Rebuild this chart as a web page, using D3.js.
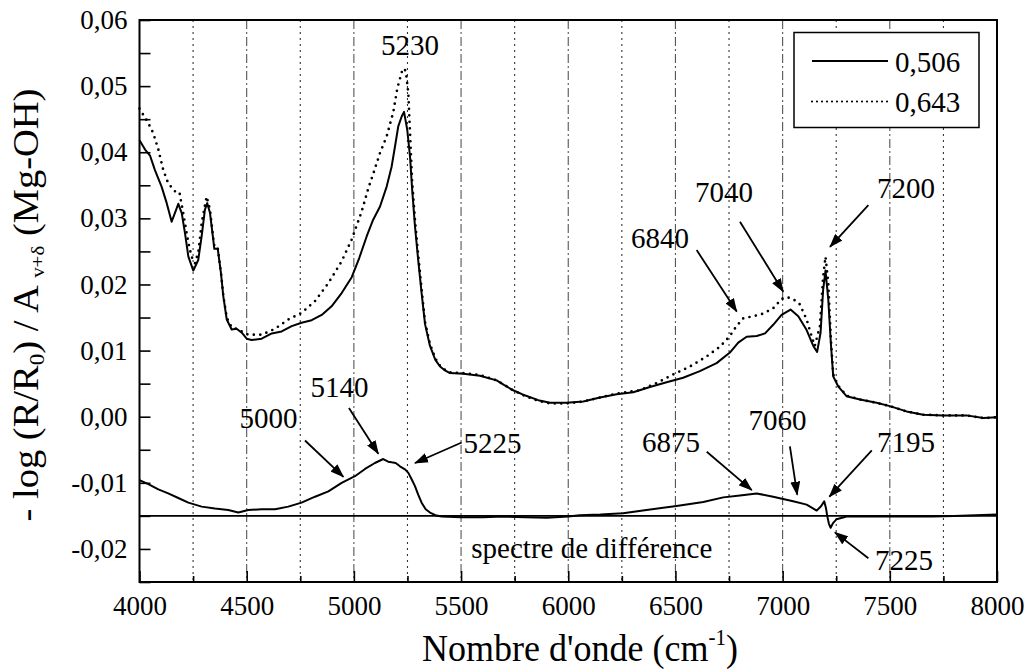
<!DOCTYPE html>
<html>
<head>
<meta charset="utf-8">
<script src="https://cdn.jsdelivr.net/npm/d3@7"></script>
<style>
  html, body { margin: 0; padding: 0; background: #fff; }
  svg { display: block; }
  svg text { font-family: "Liberation Serif", "Tinos", "Times New Roman", Times, "DejaVu Serif", serif; }
</style>
</head>
<body>
<svg id="chart" width="1031" height="670"></svg>
<script>
// ---------------- DATA ----------------
const xTickValues = [4000, 4500, 5000, 5500, 6000, 6500, 7000, 7500, 8000];
const xTickLabels = ["4000", "4500", "5000", "5500", "6000", "6500", "7000", "7500", "8000"];
const yTickValues = [0.06, 0.05, 0.04, 0.03, 0.02, 0.01, 0.00, -0.01, -0.02];
const yTickLabels = ["0,06", "0,05", "0,04", "0,03", "0,02", "0,01", "0,00", "-0,01", "-0,02"];
const legendLabels = ["0,506", "0,643"];

// spectrum 0,506 (solid)
const wn506 = [4000,4026,4049,4072,4103,4127,4150,4165,4181,4197,4212,4228,4251,4274,4290,4305,4316,4329,4344,4349,4365,4380,4391,4407,4430,4453,4477,4500,4523,4570,4617,4663,4710,4756,4803,4850,4896,4943,4990,5025,5060,5090,5122,5153,5176,5192,5207,5223,5234,5249,5262,5272,5285,5300,5316,5332,5355,5380,5402,5425,5448,5510,5588,5666,5700,5743,5800,5860,5915,5992,6070,6148,6226,6303,6381,6459,6536,6614,6692,6754,6793,6832,6879,6918,6956,6995,7037,7073,7112,7143,7161,7177,7189,7200,7213,7225,7236,7259,7298,7361,7438,7500,7578,7656,7749,7858,7936,8000];
const ab506 = [0.0418,0.0404,0.0395,0.0373,0.0348,0.0323,0.0295,0.0308,0.0322,0.0308,0.0278,0.0242,0.0221,0.0237,0.0273,0.0313,0.0323,0.0308,0.0268,0.0254,0.0254,0.0217,0.0182,0.0147,0.0132,0.0133,0.0127,0.0118,0.0116,0.0118,0.0126,0.0129,0.0137,0.0142,0.0146,0.0154,0.0167,0.0187,0.0211,0.0240,0.0273,0.0298,0.0318,0.0348,0.0378,0.0409,0.0439,0.0454,0.0461,0.0434,0.0393,0.0343,0.0288,0.0237,0.0187,0.0140,0.0107,0.0086,0.0076,0.0070,0.0066,0.0065,0.0062,0.0055,0.0048,0.0040,0.0032,0.0025,0.0021,0.0021,0.0023,0.0029,0.0034,0.0037,0.0045,0.0052,0.0059,0.0069,0.0081,0.0097,0.0112,0.0121,0.0122,0.0126,0.0139,0.0154,0.0162,0.0152,0.0131,0.0107,0.0098,0.0127,0.0192,0.0221,0.0177,0.0111,0.0061,0.0046,0.0031,0.0026,0.0021,0.0016,0.0008,0.0003,0.0002,0.0002,-0.0002,-0.0001];

// spectrum 0,643 (dotted)
const wn643 = [4000,4041,4064,4088,4111,4134,4165,4186,4204,4228,4243,4259,4275,4290,4313,4329,4344,4350,4365,4380,4391,4407,4430,4460,4507,4570,4632,4694,4756,4819,4881,4943,4990,5036,5067,5095,5122,5153,5184,5203,5223,5235,5243,5254,5262,5272,5285,5300,5316,5332,5355,5380,5402,5425,5448,5510,5588,5666,5743,5800,5860,5915,5992,6070,6148,6226,6334,6412,6490,6568,6645,6708,6754,6785,6817,6864,6910,6956,6995,7019,7049,7080,7112,7135,7150,7174,7189,7200,7213,7225,7236,7259,7298,7361,7438,7500,7578,7656,7749,7858,7936,8000];
const ab643 = [0.0466,0.0444,0.0429,0.0404,0.0373,0.0353,0.0341,0.0340,0.0308,0.0263,0.0242,0.0232,0.0250,0.0293,0.0333,0.0313,0.0270,0.0256,0.0255,0.0218,0.0183,0.0150,0.0135,0.0132,0.0124,0.0124,0.0133,0.0147,0.0157,0.0175,0.0202,0.0235,0.0268,0.0310,0.0345,0.0372,0.0399,0.0424,0.0461,0.0497,0.0521,0.0527,0.0521,0.0489,0.0429,0.0355,0.0298,0.0245,0.0193,0.0143,0.0110,0.0088,0.0077,0.0071,0.0067,0.0066,0.0063,0.0055,0.0040,0.0031,0.0024,0.0020,0.0020,0.0023,0.0029,0.0035,0.0040,0.0051,0.0064,0.0076,0.0091,0.0106,0.0122,0.0137,0.0149,0.0152,0.0156,0.0164,0.0178,0.0181,0.0178,0.0170,0.0147,0.0122,0.0107,0.0137,0.0212,0.0242,0.0202,0.0118,0.0064,0.0047,0.0032,0.0026,0.0021,0.0016,0.0008,0.0003,0.0002,0.0002,-0.0002,-0.0001];

// difference spectrum (plotted with its baseline at -0,015)
const diffBaseline = -0.015;
const wnDiff = [4000,4041,4088,4134,4181,4228,4290,4352,4414,4461,4507,4570,4632,4694,4756,4819,4881,4943,5005,5052,5098,5137,5160,5176,5195,5215,5240,5254,5270,5285,5300,5316,5335,5355,5380,5409,5500,5600,5700,5800,5900,6000,6054,6150,6256,6365,6505,6630,6723,6801,6879,6956,7049,7112,7159,7180,7194,7202,7208,7216,7224,7235,7252,7298,7400,7500,7600,7700,7800,7900,8000];
const abDiff = [-0.0096,-0.0102,-0.0110,-0.0116,-0.0123,-0.0130,-0.0136,-0.0139,-0.0141,-0.0145,-0.0141,-0.0140,-0.0140,-0.0136,-0.0130,-0.0121,-0.0113,-0.0100,-0.0090,-0.0079,-0.0070,-0.0064,-0.0068,-0.0069,-0.0070,-0.0075,-0.0080,-0.0085,-0.0095,-0.0105,-0.0118,-0.0130,-0.0140,-0.0145,-0.0149,-0.0151,-0.0152,-0.0152,-0.0151,-0.0152,-0.0153,-0.0151,-0.0149,-0.0148,-0.0146,-0.0141,-0.0135,-0.0129,-0.0122,-0.0119,-0.0116,-0.0121,-0.0128,-0.0133,-0.0142,-0.0135,-0.0128,-0.0138,-0.0150,-0.0162,-0.0168,-0.0161,-0.0155,-0.0151,-0.0151,-0.0151,-0.0151,-0.0151,-0.0150,-0.0149,-0.0148];

// peak annotations: label, text anchor (wn, value), arrow start, arrow end
const annLabels = ["5230", "6840", "7040", "7200", "5000", "5140", "5225", "6875", "7060", "7195", "7225"];
const annText   = [[5262,0.0547],[6428,0.0255],[6726,0.0325],[7575,0.0331],[4602,-0.0017],[4933,0.0030],[5647,-0.0055],[6479,-0.0053],[6976,-0.0020],[7575,-0.0053],[7566,-0.0232]];
const annFrom   = [null,[6599,0.0252],[6801,0.0295],[7400,0.0320],[4772,-0.0036],[4977,0.0013],[5503,-0.0039],[6646,-0.0053],[7034,-0.0045],[7416,-0.0051],[7400,-0.0214]];
const annTo     = [null,[6786,0.0159],[7003,0.0189],[7221,0.0257],[4951,-0.0091],[5114,-0.0056],[5285,-0.0070],[6856,-0.0111],[7068,-0.0118],[7218,-0.0121],[7244,-0.0175]];
const diffLabel = "spectre de différence";
const diffLabelPos = [6110, -0.0214];

// ---------------- CHART ----------------
const svg = d3.select("#chart");
const L = 139.5, R = 997, T = 20, B = 582;
const x = d3.scaleLinear().domain([4000, 8000]).range([L, R]);
const y = d3.scaleLinear().domain([-0.025, 0.06]).range([B, T]);

svg.append("defs").append("marker")
  .attr("id", "arrow").attr("markerUnits", "userSpaceOnUse")
  .attr("viewBox", "0 0 14 10").attr("refX", 13).attr("refY", 5)
  .attr("markerWidth", 14).attr("markerHeight", 10).attr("orient", "auto")
  .append("path").attr("d", "M0,0 L14,5 L0,10 Z").attr("fill", "#000");

// vertical grid
const gridVals = d3.range(4250, 8000, 250);
svg.append("g").selectAll("line").data(gridVals).join("line")
  .attr("x1", d => x(d)).attr("x2", d => x(d))
  .attr("y1", T).attr("y2", B)
  .attr("stroke", d => d % 500 === 0 ? "#555" : "#333")
  .attr("stroke-width", 1.1)
  .attr("stroke-dasharray", d => d % 500 === 0 ? "9,3,2,3" : "2,4");

// axes
const fmtX = (d) => xTickLabels[xTickValues.indexOf(d)];
const xMajor = d3.axisBottom(x).tickValues(xTickValues).tickSizeInner(-11).tickSizeOuter(0).tickPadding(14).tickFormat(fmtX);
const xMinor = d3.axisBottom(x).tickValues(d3.range(4250, 8000, 500)).tickSizeInner(-6).tickSizeOuter(0).tickFormat("");
const gx = svg.append("g").attr("transform", `translate(0,${B})`).call(xMajor).attr("font-family", null);
svg.append("g").attr("transform", `translate(0,${B})`).call(xMinor).select(".domain").remove();
gx.select(".domain").remove();
gx.selectAll("text").attr("font-size", 27).attr("fill", "#000");

const yTicks = d3.range(-0.025, 0.0601, 0.005).map(v => Math.round(v * 1000) / 1000);
const fmtY = (d) => {
  const i = yTickValues.findIndex(v => Math.abs(v - d) < 1e-9);
  return i >= 0 ? yTickLabels[i] : "";
};
const yAxis = d3.axisLeft(y).tickValues(yTicks).tickSizeInner(-11).tickSizeOuter(0).tickPadding(12).tickFormat(fmtY);
const gy = svg.append("g").attr("transform", `translate(${L},0)`).call(yAxis).attr("font-family", null);
gy.select(".domain").remove();
gy.selectAll("text").attr("font-size", 27).attr("fill", "#000");
svg.selectAll(".tick line").attr("stroke", "#000").attr("stroke-width", 1.6);

// baseline of difference spectrum
svg.append("line").attr("x1", x(4000)).attr("x2", x(8000))
  .attr("y1", y(diffBaseline)).attr("y2", y(diffBaseline))
  .attr("stroke", "#000").attr("stroke-width", 1.6);

const line = d3.line().x(d => x(d[0])).y(d => y(d[1]));
const s506 = wn506.map((w, i) => [w, ab506[i]]);
const s643 = wn643.map((w, i) => [w, ab643[i]]);
const sDiff = wnDiff.map((w, i) => [w, abDiff[i]]);

svg.append("path").datum(s643).attr("d", line).attr("fill", "none")
  .attr("stroke", "#000").attr("stroke-width", 2.7).attr("stroke-linecap", "round")
  .attr("stroke-dasharray", "0,6.5");
svg.append("path").datum(s506).attr("d", line).attr("fill", "none")
  .attr("stroke", "#000").attr("stroke-width", 2).attr("stroke-linejoin", "round");
svg.append("path").datum(sDiff).attr("d", line).attr("fill", "none")
  .attr("stroke", "#000").attr("stroke-width", 2).attr("stroke-linejoin", "round");

// annotations
const ann = svg.append("g").attr("font-size", 29).attr("fill", "#000");
annLabels.forEach((lab, i) => {
  ann.append("text").attr("x", x(annText[i][0])).attr("y", y(annText[i][1]))
    .attr("text-anchor", "middle").text(lab);
  if (annFrom[i]) {
    ann.append("line")
      .attr("x1", x(annFrom[i][0])).attr("y1", y(annFrom[i][1]))
      .attr("x2", x(annTo[i][0])).attr("y2", y(annTo[i][1]))
      .attr("stroke", "#000").attr("stroke-width", 1.8).attr("marker-end", "url(#arrow)");
  }
});
ann.append("text").attr("x", x(diffLabelPos[0])).attr("y", y(diffLabelPos[1]))
  .attr("text-anchor", "middle").attr("font-size", 29).text(diffLabel);

// legend
const lg = svg.append("g");
lg.append("rect").attr("x", 794).attr("y", 32.5).attr("width", 185).attr("height", 95)
  .attr("fill", "#fff").attr("stroke", "#000").attr("stroke-width", 1.5);
lg.append("line").attr("x1", 812).attr("x2", 888).attr("y1", 61).attr("y2", 61)
  .attr("stroke", "#000").attr("stroke-width", 2);
lg.append("line").attr("x1", 812).attr("x2", 888).attr("y1", 101.5).attr("y2", 101.5)
  .attr("stroke", "#000").attr("stroke-width", 2.2).attr("stroke-linecap", "round").attr("stroke-dasharray", "0,5");
lg.append("text").attr("x", 895).attr("y", 72).attr("font-size", 29).text(legendLabels[0]);
lg.append("text").attr("x", 895).attr("y", 112).attr("font-size", 29).text(legendLabels[1]);

// frame
svg.append("rect").attr("x", L).attr("y", T).attr("width", R - L).attr("height", B - T)
  .attr("fill", "none").attr("stroke", "#000").attr("stroke-width", 2);

// axis titles
const xt = svg.append("text").attr("transform", "translate(580,661) scale(1,1.08)").attr("text-anchor", "middle")
  .attr("font-size", 36).attr("fill", "#000");
xt.append("tspan").text("Nombre d'onde (cm");
xt.append("tspan").attr("font-size", 21).attr("dy", -15).text("-1");
xt.append("tspan").attr("dy", 15).text(")");

const yt = svg.append("text").attr("transform", "translate(38,305) rotate(-90) scale(1.1,1)")
  .attr("text-anchor", "middle").attr("font-size", 35).attr("fill", "#000");
yt.append("tspan").text("- log (R/R");
yt.append("tspan").attr("font-size", 21).attr("dy", 6).text("0");
yt.append("tspan").attr("dy", -6).text(") / A ");
yt.append("tspan").attr("font-size", 19).attr("dy", 6).text("v+δ");
yt.append("tspan").attr("dy", -6).text(" (Mg-OH)");
</script>
</body>
</html>
